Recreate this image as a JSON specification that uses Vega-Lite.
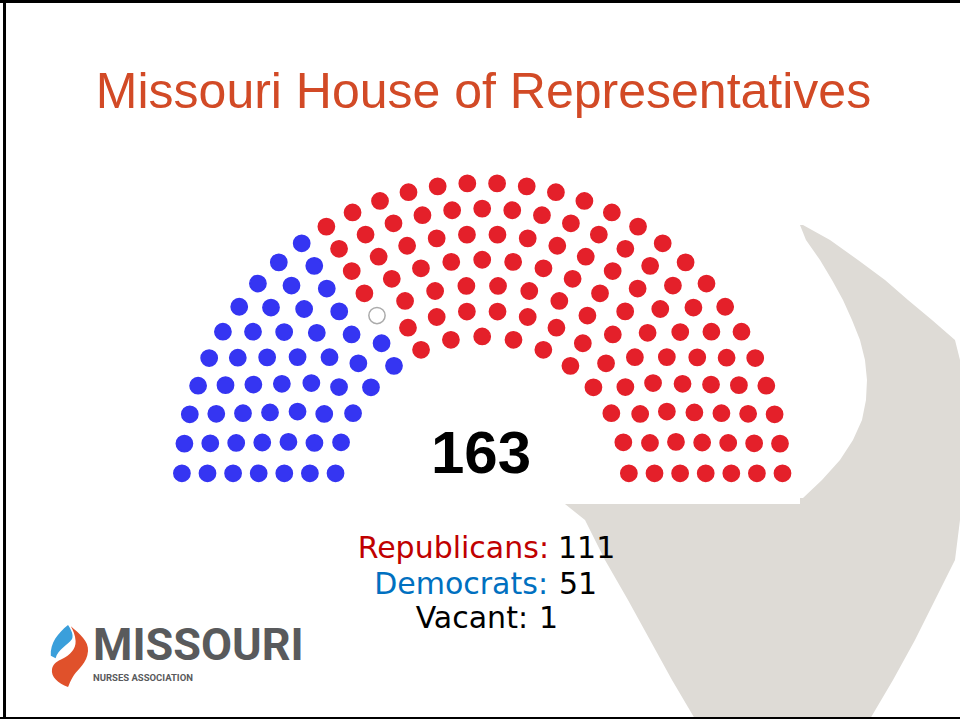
{
  "$schema": "https://vega.github.io/schema/vega-lite/v6.json",
  "width": 960,
  "height": 719,
  "autosize": {"type": "none"},
  "padding": 0,
  "background": "white",
  "config": {"view": {"stroke": null}},
  "datasets": {
    "seats": [
      {"party":"Democrats","x":-0.8194,"y":0.0571},{"party":"Democrats","x":-0.7885,"y":0.2301},{"party":"Democrats","x":-0.7215,"y":0.3927},{"party":"Democrats","x":-0.6214,"y":0.5373},{"party":"Democrats","x":-0.4928,"y":0.6572},
      {"party":"Republicans","x":-0.3416,"y":0.7470},{"party":"Republicans","x":-0.1748,"y":0.8026},{"party":"Republicans","x":0,"y":0.8214},{"party":"Republicans","x":0.1748,"y":0.8026},{"party":"Republicans","x":0.3416,"y":0.7470},{"party":"Republicans","x":0.4928,"y":0.6572},{"party":"Republicans","x":0.6214,"y":0.5373},{"party":"Republicans","x":0.7215,"y":0.3927},{"party":"Republicans","x":0.7885,"y":0.2301},{"party":"Republicans","x":0.8194,"y":0.0571},

      {"party":"Democrats","x":-0.9626,"y":0.0571},{"party":"Democrats","x":-0.9373,"y":0.2265},{"party":"Democrats","x":-0.8825,"y":0.3887},{"party":"Democrats","x":-0.7998,"y":0.5387},{"party":"Democrats","x":-0.6919,"y":0.6717},{"party":"Democrats","x":-0.5622,"y":0.7835},
      {"party":"Republicans","x":-0.4147,"y":0.8706},{"party":"Republicans","x":-0.2542,"y":0.9302},{"party":"Republicans","x":-0.0856,"y":0.9605},{"party":"Republicans","x":0.0856,"y":0.9605},{"party":"Republicans","x":0.2542,"y":0.9302},{"party":"Republicans","x":0.4147,"y":0.8706},{"party":"Republicans","x":0.5622,"y":0.7835},{"party":"Republicans","x":0.6919,"y":0.6717},{"party":"Republicans","x":0.7998,"y":0.5387},{"party":"Republicans","x":0.8825,"y":0.3887},{"party":"Republicans","x":0.9373,"y":0.2265},{"party":"Republicans","x":0.9626,"y":0.0571},

      {"party":"Democrats","x":-1.1057,"y":0.0571},{"party":"Democrats","x":-1.0825,"y":0.2324},{"party":"Democrats","x":-1.0317,"y":0.4018},{"party":"Democrats","x":-0.9545,"y":0.5610},{"party":"Democrats","x":-0.8530,"y":0.7058},{"party":"Democrats","x":-0.7297,"y":0.8326},
      {"party":"Vacant","x":-0.5878,"y":0.9382},
      {"party":"Republicans","x":-0.4309,"y":1.0198},{"party":"Republicans","x":-0.2630,"y":1.0754},{"party":"Republicans","x":-0.0884,"y":1.1036},{"party":"Republicans","x":0.0884,"y":1.1036},{"party":"Republicans","x":0.2630,"y":1.0754},{"party":"Republicans","x":0.4309,"y":1.0198},{"party":"Republicans","x":0.5878,"y":0.9382},{"party":"Republicans","x":0.7297,"y":0.8326},{"party":"Republicans","x":0.8530,"y":0.7058},{"party":"Republicans","x":0.9545,"y":0.5610},{"party":"Republicans","x":1.0317,"y":0.4018},{"party":"Republicans","x":1.0825,"y":0.2324},{"party":"Republicans","x":1.1057,"y":0.0571},

      {"party":"Democrats","x":-1.2487,"y":0.0571},{"party":"Democrats","x":-1.2288,"y":0.2291},{"party":"Democrats","x":-1.1854,"y":0.3968},{"party":"Democrats","x":-1.1192,"y":0.5568},{"party":"Democrats","x":-1.0315,"y":0.7061},{"party":"Democrats","x":-0.9240,"y":0.8419},{"party":"Democrats","x":-0.7988,"y":0.9615},
      {"party":"Republicans","x":-0.6582,"y":1.0627},{"party":"Republicans","x":-0.5051,"y":1.1434},{"party":"Republicans","x":-0.3422,"y":1.2023},{"party":"Republicans","x":-0.1728,"y":1.2380},{"party":"Republicans","x":0,"y":1.25},{"party":"Republicans","x":0.1728,"y":1.2380},{"party":"Republicans","x":0.3422,"y":1.2023},{"party":"Republicans","x":0.5051,"y":1.1434},{"party":"Republicans","x":0.6582,"y":1.0627},{"party":"Republicans","x":0.7988,"y":0.9615},{"party":"Republicans","x":0.9240,"y":0.8419},{"party":"Republicans","x":1.0315,"y":0.7061},{"party":"Republicans","x":1.1192,"y":0.5568},{"party":"Republicans","x":1.1854,"y":0.3968},{"party":"Republicans","x":1.2288,"y":0.2291},{"party":"Republicans","x":1.2487,"y":0.0571},

      {"party":"Democrats","x":-1.3917,"y":0.0571},{"party":"Democrats","x":-1.3743,"y":0.2266},{"party":"Democrats","x":-1.3364,"y":0.3927},{"party":"Democrats","x":-1.2784,"y":0.5529},{"party":"Democrats","x":-1.2014,"y":0.7048},{"party":"Democrats","x":-1.1064,"y":0.8462},{"party":"Democrats","x":-0.9948,"y":0.9749},{"party":"Democrats","x":-0.8683,"y":1.0891},
      {"party":"Republicans","x":-0.7289,"y":1.1869},{"party":"Republicans","x":-0.5785,"y":1.2670},{"party":"Republicans","x":-0.4195,"y":1.3282},{"party":"Republicans","x":-0.2543,"y":1.3695},{"party":"Republicans","x":-0.0852,"y":1.3903},{"party":"Republicans","x":0.0852,"y":1.3903},{"party":"Republicans","x":0.2543,"y":1.3695},{"party":"Republicans","x":0.4195,"y":1.3282},{"party":"Republicans","x":0.5785,"y":1.2670},{"party":"Republicans","x":0.7289,"y":1.1869},{"party":"Republicans","x":0.8683,"y":1.0891},{"party":"Republicans","x":0.9948,"y":0.9749},{"party":"Republicans","x":1.1064,"y":0.8462},{"party":"Republicans","x":1.2014,"y":0.7048},{"party":"Republicans","x":1.2784,"y":0.5529},{"party":"Republicans","x":1.3364,"y":0.3927},{"party":"Republicans","x":1.3743,"y":0.2266},{"party":"Republicans","x":1.3917,"y":0.0571},

      {"party":"Democrats","x":-1.5347,"y":0.0571},{"party":"Democrats","x":-1.5192,"y":0.2246},{"party":"Democrats","x":-1.4856,"y":0.3893},{"party":"Democrats","x":-1.4341,"y":0.5494},{"party":"Democrats","x":-1.3654,"y":0.7029},{"party":"Democrats","x":-1.2804,"y":0.8479},{"party":"Democrats","x":-1.1800,"y":0.9828},{"party":"Democrats","x":-1.0655,"y":1.1059},{"party":"Democrats","x":-0.9382,"y":1.2158},
      {"party":"Republicans","x":-0.7997,"y":1.3111},{"party":"Republicans","x":-0.6516,"y":1.3906},{"party":"Republicans","x":-0.4956,"y":1.4535},{"party":"Republicans","x":-0.3338,"y":1.4990},{"party":"Republicans","x":-0.1679,"y":1.5265},{"party":"Republicans","x":0,"y":1.5357},{"party":"Republicans","x":0.1679,"y":1.5265},{"party":"Republicans","x":0.3338,"y":1.4990},{"party":"Republicans","x":0.4956,"y":1.4535},{"party":"Republicans","x":0.6516,"y":1.3906},{"party":"Republicans","x":0.7997,"y":1.3111},{"party":"Republicans","x":0.9382,"y":1.2158},{"party":"Republicans","x":1.0655,"y":1.1059},{"party":"Republicans","x":1.1800,"y":0.9828},{"party":"Republicans","x":1.2804,"y":0.8479},{"party":"Republicans","x":1.3654,"y":0.7029},{"party":"Republicans","x":1.4341,"y":0.5494},{"party":"Republicans","x":1.4856,"y":0.3893},{"party":"Republicans","x":1.5192,"y":0.2246},{"party":"Republicans","x":1.5347,"y":0.0571},

      {"party":"Democrats","x":-1.6776,"y":0.0571},{"party":"Democrats","x":-1.6637,"y":0.2229},{"party":"Democrats","x":-1.6335,"y":0.3865},{"party":"Democrats","x":-1.5872,"y":0.5463},{"party":"Democrats","x":-1.5253,"y":0.7007},{"party":"Democrats","x":-1.4485,"y":0.8482},{"party":"Democrats","x":-1.3574,"y":0.9875},{"party":"Democrats","x":-1.2530,"y":1.1170},{"party":"Democrats","x":-1.1363,"y":1.2355},{"party":"Democrats","x":-1.0084,"y":1.3419},
      {"party":"Republicans","x":-0.8706,"y":1.4351},{"party":"Republicans","x":-0.7243,"y":1.5143},{"party":"Republicans","x":-0.5709,"y":1.5785},{"party":"Republicans","x":-0.4118,"y":1.6273},{"party":"Republicans","x":-0.2487,"y":1.6600},{"party":"Republicans","x":-0.0832,"y":1.6765},{"party":"Republicans","x":0.0832,"y":1.6765},{"party":"Republicans","x":0.2487,"y":1.6600},{"party":"Republicans","x":0.4118,"y":1.6273},{"party":"Republicans","x":0.5709,"y":1.5785},{"party":"Republicans","x":0.7243,"y":1.5143},{"party":"Republicans","x":0.8706,"y":1.4351},{"party":"Republicans","x":1.0084,"y":1.3419},{"party":"Republicans","x":1.1363,"y":1.2355},{"party":"Republicans","x":1.2530,"y":1.1170},{"party":"Republicans","x":1.3574,"y":0.9875},{"party":"Republicans","x":1.4485,"y":0.8482},{"party":"Republicans","x":1.5253,"y":0.7007},{"party":"Republicans","x":1.5872,"y":0.5463},{"party":"Republicans","x":1.6335,"y":0.3865},{"party":"Republicans","x":1.6637,"y":0.2229},{"party":"Republicans","x":1.6776,"y":0.0571}
    ],
    "swoosh": [
      {"y":1.4441,"x1":1.7754,"x2":1.7922},
      {"y":1.3603,"x1":1.8089,"x2":1.9430},
      {"y":1.2486,"x1":1.8872,"x2":2.0994},
      {"y":1.1369,"x1":1.9542,"x2":2.2503},
      {"y":1.0251,"x1":2.0156,"x2":2.3788},
      {"y":0.9134,"x1":2.0659,"x2":2.5128},
      {"y":0.8017,"x1":2.1106,"x2":2.6413},
      {"y":0.6899,"x1":2.1385,"x2":2.6693},
      {"y":0.5782,"x1":2.1497,"x2":2.6693},
      {"y":0.4665,"x1":2.1441,"x2":2.6693},
      {"y":0.3547,"x1":2.1218,"x2":2.6693},
      {"y":0.2430,"x1":2.0715,"x2":2.6693},
      {"y":0.1313,"x1":1.9989,"x2":2.6693},
      {"y":0.0196,"x1":1.8983,"x2":2.6693},
      {"y":-0.0810,"x1":1.7922,"x2":2.6693},
      {"y":-0.0922,"x1":0.4346,"x2":2.6693},
      {"y":-0.2039,"x1":0.5743,"x2":2.6693},
      {"y":-0.4274,"x1":0.6860,"x2":2.6413},
      {"y":-0.6508,"x1":0.8145,"x2":2.5296},
      {"y":-0.8743,"x1":0.9374,"x2":2.4179},
      {"y":-1.0978,"x1":1.0603,"x2":2.2950},
      {"y":-1.3156,"x1":1.1888,"x2":2.1665}
    ],
    "legend": [
      {"party":"Republicans","label":"Republicans:","count":"111","lx":0.3732,"nx":0.4235,"y":-0.4162},
      {"party":"Democrats","label":"Democrats:","count":"51","lx":0.3676,"nx":0.4291,"y":-0.6173},
      {"party":"Vacant","label":"Vacant:","count":"1","lx":0.2559,"nx":0.3173,"y":-0.8073}
    ]
  },
  "layer": [
    {
      "data": {"name": "swoosh"},
      "mark": {"type": "area", "orient": "horizontal", "color": "#DEDBD6", "opacity": 1},
      "encoding": {
        "y": {"field": "y", "type": "quantitative", "scale": {"domain": [-1.3156, 2.7011], "nice": false, "zero": false}, "axis": null},
        "x": {"field": "x1", "type": "quantitative", "scale": {"domain": [-2.6939, 2.6693], "nice": false, "zero": false}, "axis": null},
        "x2": {"field": "x2"}
      }
    },
    {
      "data": {"values": [{"x1": -1.8559, "x2": 1.7754, "y1": -0.1145, "y2": 1.8631}]},
      "mark": {"type": "rect", "color": "white"},
      "encoding": {
        "x": {"field": "x1", "type": "quantitative"},
        "x2": {"field": "x2"},
        "y": {"field": "y1", "type": "quantitative"},
        "y2": {"field": "y2"}
      }
    },
    {
      "data": {"name": "seats"},
      "mark": {"type": "circle", "size": 265, "strokeWidth": 1.5, "opacity": 1},
      "encoding": {
        "x": {"field": "x", "type": "quantitative"},
        "y": {"field": "y", "type": "quantitative"},
        "fill": {"field": "party", "type": "nominal", "scale": {"domain": ["Democrats", "Vacant", "Republicans"], "range": ["#3535F2", "#FFFFFF", "#E4202A"]}, "legend": null},
        "stroke": {"field": "party", "type": "nominal", "scale": {"domain": ["Democrats", "Vacant", "Republicans"], "range": ["#3535F2", "#ABABAB", "#E4202A"]}, "legend": null}
      }
    },
    {
      "data": {"values": [{"text": "Missouri House of Representatives", "x": 0.0073, "y": 2.0978}]},
      "mark": {"type": "text", "font": "Liberation Sans", "fontSize": 50, "color": "#D24A26", "align": "center", "baseline": "alphabetic"},
      "encoding": {"x": {"field": "x", "type": "quantitative"}, "y": {"field": "y", "type": "quantitative"}, "text": {"field": "text"}}
    },
    {
      "data": {"values": [{"text": "163", "x": -0.0067, "y": 0.057}]},
      "mark": {"type": "text", "font": "Liberation Sans", "fontSize": 60, "fontWeight": "bold", "color": "#000000", "align": "center", "baseline": "alphabetic"},
      "encoding": {"x": {"field": "x", "type": "quantitative"}, "y": {"field": "y", "type": "quantitative"}, "text": {"field": "text"}}
    },
    {
      "data": {"name": "legend"},
      "mark": {"type": "text", "font": "DejaVu Sans", "fontSize": 30, "align": "right", "baseline": "alphabetic"},
      "encoding": {
        "x": {"field": "lx", "type": "quantitative"},
        "y": {"field": "y", "type": "quantitative"},
        "text": {"field": "label"},
        "color": {"field": "party", "type": "nominal", "scale": {"domain": ["Republicans", "Democrats", "Vacant"], "range": ["#C00000", "#0070C0", "#000000"]}, "legend": null}
      }
    },
    {
      "data": {"name": "legend"},
      "mark": {"type": "text", "font": "DejaVu Sans", "fontSize": 30, "align": "left", "baseline": "alphabetic", "color": "#000000"},
      "encoding": {
        "x": {"field": "nx", "type": "quantitative"},
        "y": {"field": "y", "type": "quantitative"},
        "text": {"field": "count"}
      }
    },
    {
      "data": {"values": [{"part": "blue", "x": -2.3028, "y": -0.9581}]},
      "mark": {"type": "point", "filled": true, "opacity": 1, "size": 6400, "color": "#3A9FDB", "shape": "M -0.05 -0.75 C -0.3 -0.55 -0.5 -0.3 -0.48 0.02 L -0.36 0.08 C -0.3 -0.15 -0.05 -0.25 0.05 -0.4 C 0.1 -0.5 0.02 -0.65 -0.05 -0.75 Z"},
      "encoding": {"x": {"field": "x", "type": "quantitative"}, "y": {"field": "y", "type": "quantitative"}}
    },
    {
      "data": {"values": [{"part": "orange", "x": -2.3028, "y": -0.9581}]},
      "mark": {"type": "point", "filled": true, "opacity": 1, "size": 6400, "color": "#E0512B", "shape": "M 0.02 -0.72 C 0.25 -0.52 0.47 -0.35 0.45 -0.1 C 0.43 0.2 0.2 0.35 0.1 0.5 C 0.0 0.65 -0.02 0.75 -0.05 0.8 C -0.3 0.7 -0.48 0.55 -0.45 0.35 C -0.42 0.2 -0.3 0.15 -0.2 0.1 C 0.0 0.0 0.15 -0.15 0.14 -0.35 C 0.13 -0.5 0.08 -0.62 0.02 -0.72 Z"},
      "encoding": {"x": {"field": "x", "type": "quantitative"}, "y": {"field": "y", "type": "quantitative"}}
    },
    {
      "data": {"values": [{"text": "MISSOURI", "x": -2.1743, "y": -0.9860}]},
      "mark": {"type": "text", "font": "Roboto", "fontSize": 45, "fontWeight": "bold", "color": "#595A5C", "align": "left", "baseline": "alphabetic"},
      "encoding": {"x": {"field": "x", "type": "quantitative"}, "y": {"field": "y", "type": "quantitative"}, "text": {"field": "text"}}
    },
    {
      "data": {"values": [{"text": "NURSES ASSOCIATION", "x": -2.1743, "y": -1.1034}]},
      "mark": {"type": "text", "font": "Roboto", "fontSize": 9.5, "fontWeight": "bold", "color": "#595A5C", "align": "left", "baseline": "alphabetic"},
      "encoding": {"x": {"field": "x", "type": "quantitative"}, "y": {"field": "y", "type": "quantitative"}, "text": {"field": "text"}}
    },
    {
      "data": {"values": [{"x1": -2.6939, "x2": 2.6693, "y1": 2.6927, "y2": 2.6927}, {"x1": -2.6687, "x2": -2.6687, "y1": -1.3156, "y2": 2.7011}]},
      "mark": {"type": "rule", "color": "#000000", "strokeWidth": 3},
      "encoding": {"x": {"field": "x1", "type": "quantitative"}, "x2": {"field": "x2"}, "y": {"field": "y1", "type": "quantitative"}, "y2": {"field": "y2"}}
    },
    {
      "data": {"values": [{"x1": -2.6939, "x2": 2.6693, "y1": -1.3101, "y2": -1.3101}]},
      "mark": {"type": "rule", "color": "#000000", "strokeWidth": 2},
      "encoding": {"x": {"field": "x1", "type": "quantitative"}, "x2": {"field": "x2"}, "y": {"field": "y1", "type": "quantitative"}, "y2": {"field": "y2"}}
    }
  ]
}
